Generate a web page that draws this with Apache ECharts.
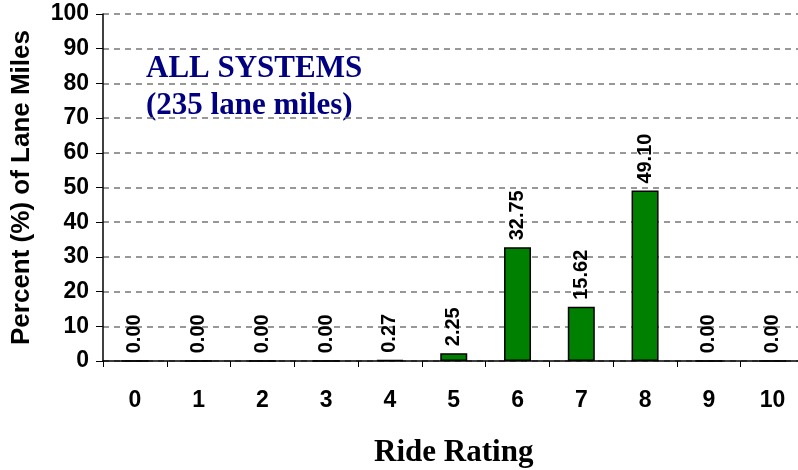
<!DOCTYPE html>
<html><head><meta charset="utf-8">
<script src="https://cdn.jsdelivr.net/npm/echarts@6/dist/echarts.min.js"></script>
<style>html,body{margin:0;padding:0;background:#fff;overflow:hidden}#c{width:798px;height:470px}</style>
</head><body><div id="c"></div>
<script>
var categories = ['0','1','2','3','4','5','6','7','8','9','10'];
var values = [0, 0, 0, 0, 0.27, 2.25, 32.75, 15.62, 49.10, 0, 0];
var yTicks = {min: 0, max: 100, interval: 10};
var titleLines = ['ALL SYSTEMS', '(235 lane miles)'];

var chart = echarts.init(document.getElementById('c'), null, {renderer: 'canvas', width: 798, height: 470});
chart.setOption({
  animation: false,
  backgroundColor: '#fff',
  grid: {left: 103, top: 14, right: -6.5, bottom: 109, containLabel: false, outerBoundsMode: 'none'},
  graphic: [
    {type: 'text', left: 146, top: 53, style: {text: titleLines[0], fill: '#000080', font: 'bold 31px "Liberation Serif", "Times New Roman", serif'}},
    {type: 'text', left: 146, top: 90, style: {text: titleLines[1], fill: '#000080', font: 'bold 31px "Liberation Serif", "Times New Roman", serif'}}
  ],
  xAxis: {
    type: 'category', data: categories,
    name: 'Ride Rating', nameLocation: 'middle', nameGap: 76,
    nameMoveOverlap: false,
    nameTextStyle: {fontFamily: '"Liberation Serif", "Times New Roman", serif', fontWeight: 'bold', fontSize: 31, color: '#000'},
    axisLine: {lineStyle: {color: '#000', width: 1.5}},
    axisTick: {show: true, inside: false, length: 6, lineStyle: {color: '#000', width: 1}},
    axisLabel: {margin: 28, fontFamily: '"Liberation Sans", Arial, sans-serif', fontWeight: 'bold', fontSize: 23, color: '#000'},
    splitLine: {show: false}
  },
  yAxis: {
    type: 'value', min: yTicks.min, max: yTicks.max, interval: yTicks.interval,
    name: 'Percent (%) of Lane Miles', nameLocation: 'middle', nameGap: 68,
    nameMoveOverlap: false,
    nameTextStyle: {fontFamily: '"Liberation Sans", Arial, sans-serif', fontWeight: 'bold', fontSize: 26, color: '#000'},
    axisLine: {show: true, lineStyle: {color: '#000', width: 1.5}},
    axisTick: {show: true, inside: false, length: 7, lineStyle: {color: '#000', width: 1}},
    axisLabel: {margin: 14, fontFamily: '"Liberation Sans", Arial, sans-serif', fontWeight: 'bold', fontSize: 23, color: '#000'},
    splitLine: {show: true, lineStyle: {color: '#777', type: [6, 5], width: 1.5}}
  },
  series: [{
    type: 'bar', data: values, barWidth: 27,
    itemStyle: {color: '#008000', borderColor: '#000', borderWidth: 1.5},
    label: {
      show: true, position: 'top', rotate: 90, align: 'left', verticalAlign: 'middle', distance: 10,
      offset: [-3, 0],
      formatter: function (p) { return p.value.toFixed(2); },
      fontFamily: '"Liberation Sans", Arial, sans-serif', fontWeight: 'bold', fontSize: 20, color: '#000'
    }
  }]
});
</script></body></html>
